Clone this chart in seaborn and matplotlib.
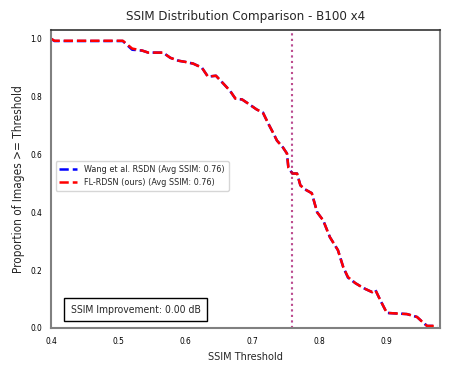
import matplotlib
matplotlib.use("Agg")
import matplotlib.pyplot as plt
import seaborn as sns
import pandas as pd

# SSIM thresholds and proportion of images at or above each threshold
thresholds = [0.400, 0.405, 0.420, 0.460, 0.507, 0.521, 0.536, 0.545, 0.567, 0.578,
              0.590, 0.600, 0.612, 0.625, 0.634, 0.646, 0.657, 0.667, 0.675, 0.685,
              0.694, 0.707, 0.716, 0.724, 0.731, 0.737, 0.746, 0.752, 0.754, 0.760,
              0.767, 0.772, 0.779, 0.789, 0.797, 0.806, 0.816, 0.828, 0.836, 0.843,
              0.854, 0.866, 0.879, 0.884, 0.891, 0.901, 0.931, 0.946, 0.954, 0.961,
              0.976]
wang_rsdn = [1.000, 0.992, 0.992, 0.992, 0.992, 0.962, 0.959, 0.952, 0.952, 0.934,
             0.924, 0.920, 0.914, 0.900, 0.869, 0.872, 0.845, 0.820, 0.793, 0.790,
             0.776, 0.755, 0.745, 0.707, 0.676, 0.648, 0.624, 0.603, 0.555, 0.534,
             0.534, 0.493, 0.479, 0.466, 0.400, 0.372, 0.314, 0.269, 0.210, 0.174,
             0.155, 0.138, 0.124, 0.131, 0.097, 0.052, 0.048, 0.038, 0.021, 0.007,
             0.007]
fl_rdsn = [1.000, 0.993, 0.993, 0.993, 0.993, 0.966, 0.959, 0.952, 0.952, 0.934,
           0.924, 0.920, 0.914, 0.900, 0.869, 0.872, 0.845, 0.820, 0.793, 0.790,
           0.776, 0.755, 0.745, 0.707, 0.676, 0.648, 0.624, 0.603, 0.555, 0.534,
           0.534, 0.493, 0.479, 0.466, 0.400, 0.372, 0.314, 0.269, 0.210, 0.176,
           0.155, 0.138, 0.124, 0.131, 0.097, 0.052, 0.048, 0.038, 0.021, 0.007,
           0.007]
avg_wang = 0.76
avg_fl = 0.76
improvement_db = 0.00

df = pd.DataFrame({"threshold": thresholds, "wang": wang_rsdn, "fl": fl_rdsn})

sns.set_style("white")
plt.rcParams["font.family"] = ["DejaVu Sans"]
plt.rcParams["font.stretch"] = "condensed"

fig = plt.figure(figsize=(4.52, 3.71), dpi=100)
ax = fig.add_axes([0.113, 0.116, 0.860, 0.803])

sns.lineplot(data=df, x="threshold", y="wang", ax=ax, color="blue",
             linestyle="--", linewidth=1.8,
             label=f"Wang et al. RSDN (Avg SSIM: {avg_wang:.2f})")
sns.lineplot(data=df, x="threshold", y="fl", ax=ax, color="red",
             linestyle="--", linewidth=1.8,
             label=f"FL-RDSN (ours) (Avg SSIM: {avg_fl:.2f})")

ax.axvline(avg_wang, color="blue", linestyle=":", linewidth=1.5, alpha=0.45)
ax.axvline(avg_fl, color="red", linestyle=":", linewidth=1.5, alpha=0.45)

ax.set_xlim(0.4, 0.98)
ax.set_ylim(0.0, 1.03)
ax.set_xticks([0.4, 0.5, 0.6, 0.7, 0.8, 0.9])
ax.set_yticks([0.0, 0.2, 0.4, 0.6, 0.8, 1.0])
ax.tick_params(axis="both", labelsize=6, length=3, width=0.8, colors="black")

for side in ["left", "bottom", "right"]:
    ax.spines[side].set_color("#808080")
    ax.spines[side].set_linewidth(1.5)
ax.spines["top"].set_color("#333333")
ax.spines["top"].set_linewidth(1.2)

ax.set_title("SSIM Distribution Comparison - B100 x4", fontsize=9.5, pad=7)
ax.set_xlabel("SSIM Threshold", fontsize=7.8)
ax.set_ylabel("Proportion of Images >= Threshold", fontsize=8.5)

ax.legend(loc="center left", fontsize=6.5, frameon=True, handlelength=2,
          bbox_to_anchor=(0.0, 0.51))

ax.text(0.05, 0.045, f"SSIM Improvement: {improvement_db:.2f} dB",
        transform=ax.transAxes, fontsize=7.5, va="bottom", ha="left",
        bbox=dict(boxstyle="square,pad=0.6", facecolor="white", edgecolor="black"))

fig.savefig("out.png", dpi=100)
